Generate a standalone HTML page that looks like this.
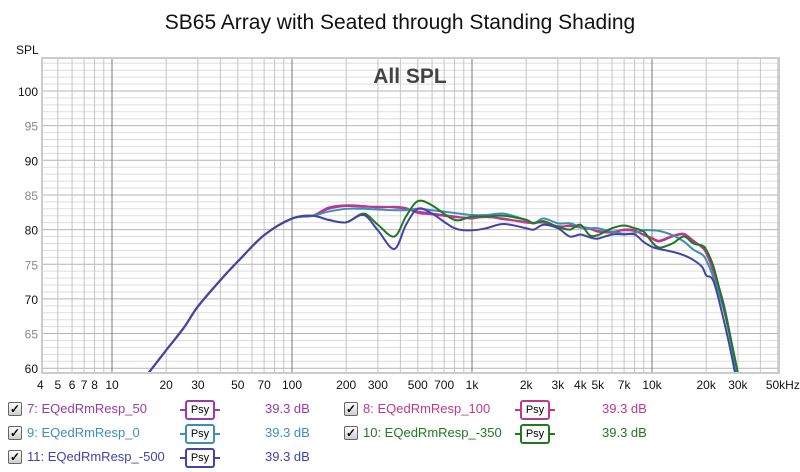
<!DOCTYPE html>
<html><head><meta charset="utf-8"><style>
body{margin:0;background:#fff;font-family:"Liberation Sans",sans-serif;}
#wrap{position:relative;width:800px;height:472px;overflow:hidden;}
.leg{position:absolute;font-size:13px;height:18px;line-height:18px;}
.cb{position:absolute;width:12px;height:12px;border:1px solid #666;background:linear-gradient(#fff,#ccc);font-size:12px;line-height:12px;text-align:center;color:#000;font-weight:bold;border-radius:2px}
.psy{position:absolute;width:26px;height:16px;border:2px solid;border-radius:3px;font-size:11px;line-height:16px;text-align:center;color:#000;background:#fff}
.dash{position:absolute;height:2px;width:40px;top:9px}
</style></head><body><div id="wrap">
<svg id="svg" width="800" height="472" style="position:absolute;left:0;top:0">
<text x="400" y="29" text-anchor="middle" font-size="21" font-family="Liberation Sans" fill="#111">SB65 Array with Seated through Standing Shading</text>
<text x="16" y="54" font-size="12" font-family="Liberation Sans" fill="#111">SPL</text>
<g id="grid"></g><g id="curves"></g><g id="ticks"></g>
<text x="410" y="83" text-anchor="middle" font-size="21" font-weight="bold" font-family="Liberation Sans" fill="#444">All SPL</text>
</svg>
<div id="legend"></div>
</div>
<script>
const freqs=[16,20,25,30,40,50,70,100,130,160,200,250,300,370,430,500,600,800,1000,1200,1500,2000,2200,2500,3000,3500,4000,4500,5000,6000,7000,8000,9000,10000,11000,13000,15000,17000,19000,20000,22000,25000,28000,31000];
const low=[59.35,62.6,65.8,68.9,72.7,75.4,79.2,81.6,82.0];
const s50=low.concat([83.0,83.4,83.3,83.3,83.2,83.0,82.6,82.3,81.9,81.6,81.9,81.5,81.1,80.9,81.2,80.4,80.6,80.4,80.2,79.7,79.6,80.0,79.9,79.2,78.7,78.3,79.0,79.3,78.3,77.5,76.7,74.0,69.3,63.0,57]);
const s100=low.concat([83.2,83.5,83.4,83.2,83.3,83.1,82.4,82.2,81.8,81.7,81.8,81.6,81.0,81.0,81.0,80.5,80.5,80.3,80.1,79.8,79.7,79.9,79.8,79.3,78.8,78.4,79.1,79.4,78.4,77.4,76.6,73.8,69.0,62.8,56.8]);
const s0=low.concat([82.6,83.0,83.0,82.9,82.8,82.8,83.0,82.8,82.4,82.1,82.1,82.3,81.4,80.9,81.6,80.9,80.9,80.4,80.2,80.2,79.7,79.4,79.5,79.9,79.9,79.8,79.2,78.3,77.1,76.4,75.6,73.0,68.5,62.5,56]);
const s350=low.concat([81.4,81.05,82.3,80.7,79.0,81.9,84.1,83.5,81.4,81.9,81.9,82.0,81.4,80.9,81.2,80.4,80.0,80.7,79.2,79.2,80.2,80.6,80.2,79.7,78.2,77.4,78.0,79.0,78.0,77.7,77.1,74.6,68.9,63.1,57.5]);
const s500=low.concat([81.4,81.05,82.1,79.9,77.2,80.7,83.0,82.3,80.2,79.9,80.2,80.8,80.2,80.0,80.7,80.2,79.0,79.3,78.9,78.7,79.3,79.3,79.3,78.2,77.5,77.2,76.8,76.3,75.6,74.6,73.4,72.5,67.0,61.2,55]);
const xTickVals=[4,5,6,7,8,10,20,30,50,70,100,200,300,500,700,1000,2000,3000,4000,5000,7000,10000,20000,30000,50000];
const xTickLabels=["4","5","6","7","8","10","20","30","50","70","100","200","300","500","700","1k","2k","3k","4k","5k","7k","10k","20k","30k","50kHz"];
const yTickVals=[60,65,70,75,80,85,90,95,100];
const L=43,R=778,T=59,B=372;
const fx=f=>112+180*(Math.log10(f)-1);
const fy=d=>91+(100-d)*6.93;
const NS="http://www.w3.org/2000/svg";
function mk(tag,attrs,parent){const e=document.createElementNS(NS,tag);for(const k in attrs)e.setAttribute(k,attrs[k]);parent.appendChild(e);return e;}
const grid=document.getElementById('grid'),ticks=document.getElementById('ticks'),curves=document.getElementById('curves');
const frame=mk('rect',{x:L-2,y:T-2,width:R-L+4,height:B-T+4,fill:'#ccc'},grid);

const bg=mk('rect',{x:L,y:T,width:R-L,height:B-T,fill:'#fff'},grid);

for(let d=60;d<=104;d++){const y=fy(d);const gl=mk('line',{x1:L,x2:R,y1:y,y2:y,stroke:d%5==0?'#b4b4b4':'#dedede','stroke-width':1},grid);
}
for(let dec=1;dec<=10000;dec*=10){for(let m=1;m<10;m++){const f=dec*m;const x=fx(f);if(x<L||x>R)continue;
const gl=mk('line',{x1:x,x2:x,y1:T,y2:B,stroke:m==1?'#7a7a7a':'#c4c4c4','stroke-width':1},grid);
}}
xTickVals.forEach((v,i)=>{const t=mk('text',{x:fx(v),y:389,'text-anchor':i==xTickVals.length-1?'start':'middle','font-size':12,'font-family':'Liberation Sans',fill:'#111'},ticks);
if(i==xTickVals.length-1)t.setAttribute('x',fx(v)-12);
t.textContent=xTickLabels[i];});
yTickVals.forEach(v=>{const t=mk('text',{x:38,y:fy(v)+5,'text-anchor':'end','font-size':12,'font-family':'Liberation Sans',fill:v%10==0?'#111':'#888'},ticks);
t.textContent=v;});
const cp=mk('clipPath',{id:'clip'},curves);mk('rect',{x:L,y:T,width:R-L,height:B-T},cp);
function path(vals){const p=freqs.map((f,i)=>[fx(f),fy(vals[i])]);let d='M'+p[0][0]+','+p[0][1];
for(let i=0;i<p.length-1;i++){const p0=p[Math.max(0,i-1)],p1=p[i],p2=p[i+1],p3=p[Math.min(p.length-1,i+2)];
d+=' C'+(p1[0]+(p2[0]-p0[0])/6)+','+(p1[1]+(p2[1]-p0[1])/6)+' '+(p2[0]-(p3[0]-p1[0])/6)+','+(p2[1]-(p3[1]-p1[1])/6)+' '+p2[0]+','+p2[1];}return d;}
const series=[[s50,'#9b3aa8','series-7-eq-50'],[s100,'#c0388c','series-8-eq-100'],[s0,'#3a90b8','series-9-eq-0'],[s350,'#1f7a1f','series-10-eq-350'],[s500,'#4444a8','series-11-eq-500']];
series.forEach(s=>{const e=mk('path',{d:path(s[0]),fill:'none',stroke:s[1],'stroke-width':2,'clip-path':'url(#clip)'},curves);
});
const leg=[[8,27,185,265,400,'7: EQedRmResp_50','#9b3aa8'],[344,363,520,602,400,'8: EQedRmResp_100','#c0388c'],[8,27,185,265,424,'9: EQedRmResp_0','#3a90b8'],[344,363,520,602,424,'10: EQedRmResp_-350','#1f7a1f'],[8,27,185,265,448,'11: EQedRmResp_-500','#4444a8']];
const lg=document.getElementById('legend');
leg.forEach(r=>{const row=document.createElement('div');row.className='leg';row.style.left='0';row.style.top=r[4]+'px';row.style.width='800px';

row.innerHTML='<div class="cb" style="left:'+r[0]+'px;top:2px">✓</div><span style="position:absolute;left:'+r[1]+'px;color:'+r[6]+'">'+r[5]+'</span><div class="dash" style="left:'+(r[2]-5)+'px;background:'+r[6]+'"></div><div class="psy" style="left:'+r[2]+'px;top:0;border-color:'+r[6]+'">Psy</div><span style="position:absolute;left:'+r[3]+'px;color:'+r[6]+'">39.3 dB</span>';
lg.appendChild(row);
const cb=row.querySelector('.cb');
const ps=row.querySelector('.psy');});
</script></body></html>
